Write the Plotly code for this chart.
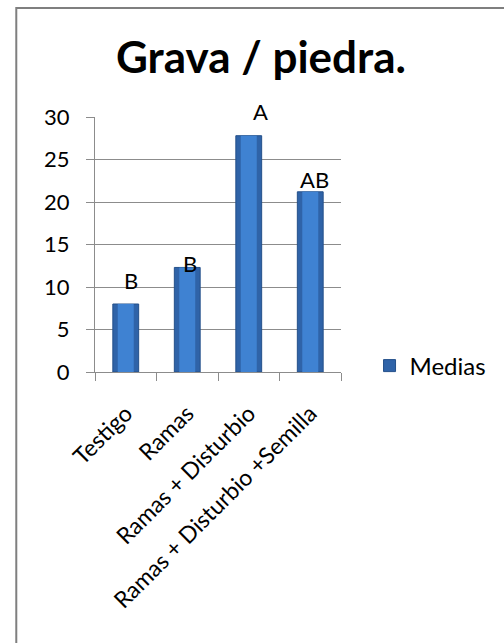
import plotly.graph_objects as go

# Means per treatment and their significance groups
categories = ["Testigo", "Ramas", "Ramas + Disturbio", "Ramas + Disturbio +Semilla"]
medias = [8.0, 12.3, 27.8, 21.2]
groups = ["B", "B", "A", "AB"]
y_ticks = [0, 5, 10, 15, 20, 25, 30]

FONT = "Lato"
W, H = 504, 643
L, R, T, B = 95, 159, 117, 271  # plot-area margins in px

fig = go.Figure()

# main bar body
fig.add_trace(go.Bar(
    x=categories, y=medias, name="Medias", width=0.42,
    marker=dict(color="#2F63A8", line=dict(color="#24508A", width=1)),
))
# lighter centre band to give the bars a rounded look
fig.add_trace(go.Bar(
    x=categories, y=medias, width=0.26, showlegend=False, hoverinfo="skip",
    marker=dict(color="#3F82D2", line=dict(width=0)),
))

# group letters above the bars (pixel nudges per bar)
x_nudge = [5, 3, 12, 4]
y_nudge = [24, 4, 24, 12]
for c, v, g, dx, dy in zip(categories, medias, groups, x_nudge, y_nudge):
    fig.add_annotation(x=c, y=v, text=g, showarrow=False, xshift=dx, yshift=dy,
                       yanchor="middle", font=dict(family=FONT, size=22, color="#000"))

# outer chart frame
pw, ph = W - L - R, H - T - B
def px_x(x):
    return (x - L) / pw
def px_y(y):
    return (H - B - y) / ph
fig.add_shape(type="rect", xref="paper", yref="paper",
              x0=px_x(15), x1=px_x(520), y0=px_y(8), y1=px_y(660),
              line=dict(color="#7F7F7F", width=2), layer="below")

fig.update_layout(
    width=W, height=H,
    margin=dict(l=L, r=R, t=T, b=B),
    paper_bgcolor="white", plot_bgcolor="white",
    barmode="overlay",
    title=dict(text="<b>Grava / piedra.</b>", x=261 / W, xanchor="center",
               y=1 - 58 / H, yanchor="middle", yref="container",
               font=dict(family=FONT, size=44, color="#000")),
    legend=dict(x=px_x(374), y=px_y(366), xanchor="left", yanchor="middle",
                font=dict(family=FONT, size=24, color="#000"),
                itemwidth=30, bgcolor="rgba(0,0,0,0)"),
    font=dict(family=FONT, color="#000"),
)

fig.update_yaxes(range=[0, 30], tickvals=y_ticks, showgrid=True, gridcolor="#8C8C8C",
                 gridwidth=1, showline=True, linecolor="#8C8C8C", linewidth=1,
                 ticks="outside", ticklen=8, tickcolor="#8C8C8C",
                 ticklabelstandoff=12, tickfont=dict(family=FONT, size=22, color="#000"),
                 zeroline=False)
fig.update_xaxes(showline=True, linecolor="#8C8C8C", linewidth=1, ticks="outside",
                 tickson="boundaries", ticklen=8, tickcolor="#8C8C8C", tickangle=-45,
                 ticklabelstandoff=18,
                 tickfont=dict(family=FONT, size=23, color="#000"), showgrid=False)

fig.write_html("out.html")
